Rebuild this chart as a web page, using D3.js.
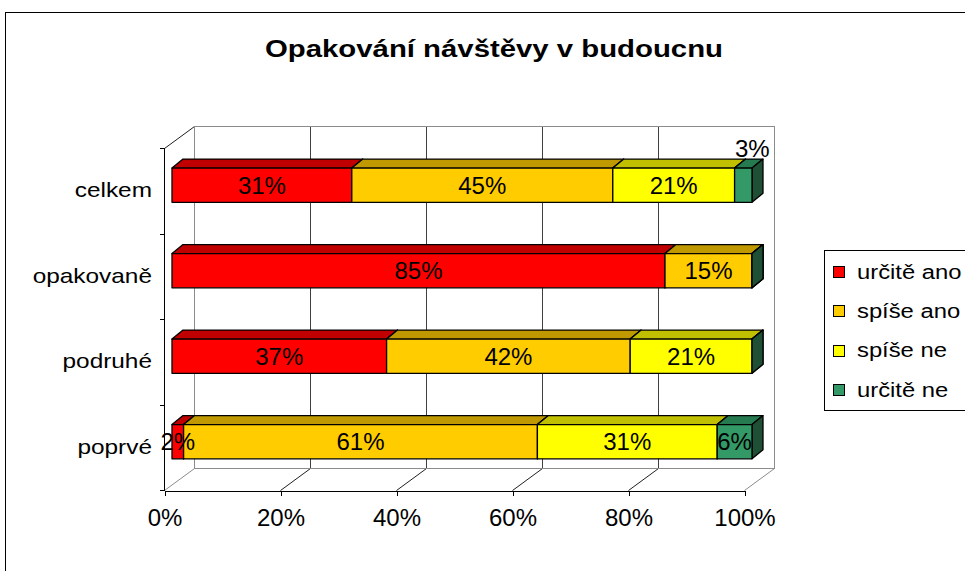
<!DOCTYPE html>
<html>
<head>
<meta charset="utf-8">
<script src="https://cdn.jsdelivr.net/npm/d3@7"></script>
<style>
  body { margin: 0; background: #fff; }
  text { font-family: Arial, "Liberation Sans", sans-serif; fill: #000; }
</style>
</head>
<body>
<div id="chart"></div>
<script>
// data
const categories = ["celkem", "opakovaně", "podruhé", "poprvé"];
const seriesNames = ["určitě ano", "spíše ano", "spíše ne", "určitě ne"];
const urciteAno = [31, 85, 37, 2];
const spiseAno  = [45, 15, 42, 61];
const spiseNe   = [21, 0, 21, 31];
const urciteNe  = [3, 0, 0, 6];
const tickValues = [0, 20, 40, 60, 80, 100];
const chartTitle = "Opakování návštěvy v budoucnu";

const frontColors = ["#ff0000", "#ffcc00", "#ffff00", "#339966"];
const topColors   = ["#c00000", "#c09900", "#c0c000", "#267a4f"];
const sideColors  = ["#800000", "#806600", "#808000", "#1f4f35"];

const width = 965, height = 571;
const svg = d3.select("#chart").append("svg")
  .attr("width", width).attr("height", height);

// outer chart frame
svg.append("rect")
  .attr("x", 5.5).attr("y", 12.5).attr("width", 1000).attr("height", 700)
  .attr("fill", "#fff").attr("stroke", "#000");

// title
svg.append("text")
  .attr("x", 265).attr("y", 57)
  .attr("font-size", 23).attr("font-weight", "bold")
  .attr("textLength", 458).attr("lengthAdjust", "spacingAndGlyphs")
  .text(chartTitle);

// geometry of the 3D box
const x0 = 164, x1 = 744;          // front axis
const yTop = 148, yBot = 490;
const wallDx = 30, wallDy = -22;    // depth of the walls
const barDx = 11, barDy = -9;       // depth of the bars
const barShift = 8;                 // bars sit a little behind the front plane

const x = d3.scaleLinear().domain([0, 100]).range([x0, x1]);
const y = d3.scaleBand().domain(categories).range([yTop, yBot]);

const line = (g, a, b, col, w = 1) => g.append("line")
  .attr("x1", a[0] + 0.5).attr("y1", a[1] + 0.5).attr("x2", b[0] + 0.5).attr("y2", b[1] + 0.5)
  .attr("stroke", col).attr("stroke-width", w);

const walls = svg.append("g");
// back wall gridlines + floor diagonals
tickValues.forEach((t, i) => {
  const bx = Math.round(x(t) + wallDx);
  const edge = i === 0 || i === tickValues.length - 1;
  line(walls, [bx, yTop + wallDy], [bx, yBot + wallDy], edge ? "#8c8c8c" : "#404040")
    .attr("shape-rendering", "crispEdges");
  line(walls, [bx, yBot + wallDy], [Math.round(x(t)), yBot], edge ? "#8c8c8c" : "#202020");
});
line(walls, [x0 + wallDx, yTop + wallDy], [x1 + wallDx, yTop + wallDy], "#8c8c8c")
  .attr("shape-rendering", "crispEdges");
line(walls, [x0 + wallDx, yBot + wallDy], [x1 + wallDx, yBot + wallDy], "#8c8c8c")
  .attr("shape-rendering", "crispEdges");
line(walls, [x0, yTop], [x0 + wallDx, yTop + wallDy], "#202020");

// left axis with ticks at the band borders
const yAxis = svg.append("g");
const yTicks = categories.map(c => Math.round(y(c))).concat([yBot]);
yAxis.append("path")
  .attr("d", `M${x0 + 0.5},${yTop}V${yBot + 1}` +
    yTicks.map(v => `M${x0 - 4},${v + 0.5}H${x0 + 1}`).join(""))
  .attr("fill", "none").attr("stroke", "#000").attr("stroke-width", 1);
categories.forEach(c => {
  svg.append("g")
    .attr("transform", `translate(152,${y(c) + y.bandwidth() / 2}) scale(1.22,1)`)
    .append("text")
    .attr("text-anchor", "end").attr("dy", "0.32em")
    .attr("font-size", 20)
    .text(c);
});

// bottom axis
const xAxis = svg.append("g").attr("transform", `translate(0.5,${yBot + 0.5})`)
  .call(d3.axisBottom(x).tickValues(tickValues).tickSize(5).tickSizeOuter(0)
    .tickFormat(d => d + "%"));
xAxis.selectAll(".domain, line").attr("stroke", "#000").attr("shape-rendering", "crispEdges");
xAxis.selectAll("text").attr("font-size", 24).attr("y", 18)
  .attr("font-family", "Arial, 'Liberation Sans', sans-serif").attr("fill", "#000");

// stacked 3D bars
const rows = categories.map((c, i) => {
  const vals = [urciteAno[i], spiseAno[i], spiseNe[i], urciteNe[i]];
  let acc = 0;
  return vals.map((v, s) => {
    const seg = { cat: c, s, v, start: acc, end: acc + v };
    acc += v;
    return seg;
  });
});

const bw = y.bandwidth();
const bars = svg.append("g");
rows.forEach(segs => {
  const g = bars.append("g");
  segs.forEach(d => {
    const xa = x(d.start) + barShift, xb = x(d.end) + barShift;
    const yt = y(d.cat) + bw * 0.235, yb = yt + bw * 0.4;
    const poly = (pts, fill) => g.append("polygon")
      .attr("points", pts.map(p => p.join(",")).join(" "))
      .attr("fill", fill).attr("stroke", "#000").attr("stroke-width", 1.3)
      .attr("stroke-linejoin", "round");
    poly([[xa, yt], [xb, yt], [xb + barDx, yt + barDy], [xa + barDx, yt + barDy]], topColors[d.s]);
    poly([[xb, yt], [xb + barDx, yt + barDy], [xb + barDx, yb + barDy], [xb, yb]], sideColors[d.s]);
    if (d.v > 0) poly([[xa, yt], [xb, yt], [xb, yb], [xa, yb]], frontColors[d.s]);
  });
  segs.filter(d => d.v > 0).forEach(d => {
    const yt = y(d.cat) + bw * 0.235, yb = yt + bw * 0.4;
    let cx = (x(d.start) + x(d.end)) / 2 + barShift, cy = (yt + yb) / 2;
    // the thin last slice gets its label lifted above the bar
    if (d.v < 5 && d.s === 3) { cx += 9; cy -= 37; }
    g.append("text")
      .attr("x", cx).attr("y", cy).attr("dy", "0.36em")
      .attr("text-anchor", "middle").attr("font-size", 24)
      .text(d.v + "%");
  });
});

// legend
const legend = svg.append("g").attr("transform", "translate(824,250)");
legend.append("rect").attr("x", 0.5).attr("y", 0.5).attr("width", 300).attr("height", 160)
  .attr("fill", "#fff").attr("stroke", "#000");
const ly = d3.scalePoint().domain(seriesNames).range([22, 140]);
seriesNames.forEach((n, i) => {
  legend.append("rect")
    .attr("x", 9.5).attr("y", Math.round(ly(n)) - 5.5).attr("width", 11).attr("height", 11)
    .attr("fill", frontColors[i]).attr("stroke", "#000");
  legend.append("g")
    .attr("transform", `translate(33,${ly(n)}) scale(1.19,1)`)
    .append("text").attr("dy", "0.34em").attr("font-size", 20)
    .text(n);
});
</script>
</body>
</html>
